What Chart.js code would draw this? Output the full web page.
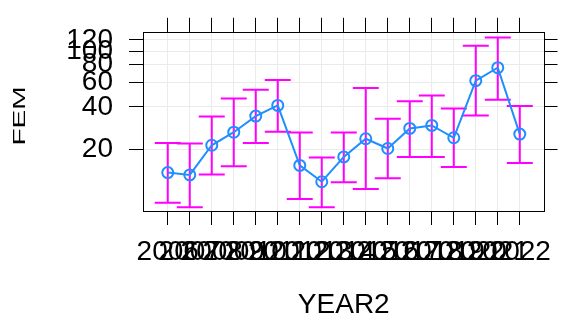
<!DOCTYPE html>
<html>
<head>
<meta charset="utf-8">
<script src="https://cdn.jsdelivr.net/npm/chart.js@4.4.1/dist/chart.umd.min.js"></script>
<style>
html, body { margin: 0; padding: 0; background: #fff; }
</style>
</head>
<body>
<canvas id="grafico" width="562" height="322"></canvas>
<script>
// Datos
var years = [2006, 2007, 2008, 2009, 2010, 2011, 2012, 2013, 2014, 2015, 2016, 2017, 2018, 2019, 2020, 2021, 2022];
var fem = [13.6, 13.1, 21.3, 26.4, 34.4, 41.0, 15.3, 11.7, 17.6, 23.7, 20.2, 28.1, 29.5, 24.1, 61.5, 76.1, 25.6];
var femUpper = [22.1, 21.9, 34.2, 45.9, 52.9, 62.2, 26.3, 17.4, 26.3, 54.5, 32.9, 43.8, 48.3, 39.0, 109, 125, 40.6];
var femLower = [8.3, 7.7, 13.2, 15.1, 22.1, 26.6, 8.8, 7.7, 11.6, 10.4, 12.4, 17.6, 17.6, 14.9, 34.7, 44.9, 15.9];
var yTicks = [20, 40, 60, 80, 100, 120];

Chart.defaults.font.family = '"Liberation Sans", Arial, sans-serif';
Chart.defaults.color = '#000';

var ctx = document.getElementById('grafico').getContext('2d');

// Barras de error (magenta)
var barrasError = {
    id: 'barrasError',
    beforeDatasetsDraw: function (chart) {
        var c = chart.ctx, sx = chart.scales.x, sy = chart.scales.y;
        c.save();
        c.strokeStyle = '#ff00ff';
        c.lineWidth = 2;
        for (var i = 0; i < years.length; i++) {
            var px = sx.getPixelForValue(years[i]);
            var top = sy.getPixelForValue(femUpper[i]);
            var bot = sy.getPixelForValue(femLower[i]);
            c.beginPath();
            c.moveTo(px, top); c.lineTo(px, bot);
            c.moveTo(px - 13, top); c.lineTo(px + 13, top);
            c.moveTo(px - 13, bot); c.lineTo(px + 13, bot);
            c.stroke();
        }
        c.restore();
    }
};

// Titulo del eje Y (texto girado, letras mas estrechas)
var tituloY = {
    id: 'tituloY',
    afterDraw: function (chart) {
        var c = chart.ctx;
        c.save();
        c.translate(25, 116);
        c.rotate(-Math.PI / 2);
        c.scale(1, 0.62);
        c.font = '28px "Liberation Sans", Arial, sans-serif';
        c.fillStyle = '#000';
        c.textAlign = 'center';
        c.textBaseline = 'alphabetic';
        c.fillText('FEM', 0, 0);
        c.restore();
    }
};

function ticksX(s) { s.ticks = years.map(function (v) { return { value: v }; }); }
function ticksY(s) { s.ticks = yTicks.map(function (v) { return { value: v }; }); }

var miGrafico = new Chart(ctx, {
    type: 'line',
    data: {
        datasets: [{
            data: years.map(function (y, i) { return { x: y, y: fem[i] }; }),
            borderColor: '#1f8fff',
            borderWidth: 2,
            pointRadius: 5.5,
            pointBorderWidth: 2,
            pointBorderColor: '#1f8fff',
            pointBackgroundColor: 'rgba(0,0,0,0)',
            fill: false,
            tension: 0
        }]
    },
    options: {
        responsive: false,
        animation: false,
        devicePixelRatio: 1,
        layout: { padding: { top: 3, right: 0, bottom: 0, left: 0 } },
        plugins: { legend: { display: false }, tooltip: { enabled: false } },
        scales: {
            x: {
                type: 'linear', position: 'bottom', min: 2004.875, max: 2023.125,
                afterBuildTicks: ticksX,
                afterFit: function (s) { s.height = 111; },
                ticks: { autoSkip: false, maxRotation: 0, minRotation: 0, padding: 10, font: { size: 28 },
                    callback: function (v) { return String(v); } },
                grid: { color: '#ebebeb', tickColor: '#000', tickLength: 14 },
                border: { color: '#000', width: 1 },
                title: { display: true, text: 'YEAR2', font: { size: 28 }, padding: 0 }
            },
            x2: {
                type: 'linear', position: 'top', min: 2004.875, max: 2023.125,
                afterBuildTicks: ticksX,
                afterFit: function (s) { s.height = 15; },
                ticks: { display: false },
                grid: { drawOnChartArea: false, tickColor: '#000', tickLength: 15 },
                border: { color: '#000', width: 1 }
            },
            y: {
                type: 'logarithmic', position: 'left', min: 7.24, max: 135,
                afterBuildTicks: ticksY,
                afterFit: function (s) { s.width = 143; },
                ticks: { autoSkip: false, padding: 16, font: { size: 28 }, callback: function (v) { return String(v); } },
                grid: { color: '#ebebeb', tickColor: '#000', tickLength: 14 },
                border: { color: '#000', width: 1 }
            },
            y2: {
                type: 'logarithmic', position: 'right', min: 7.24, max: 135,
                afterBuildTicks: ticksY,
                afterFit: function (s) { s.width = 13; },
                ticks: { display: false },
                grid: { drawOnChartArea: false, tickColor: '#000', tickLength: 13 },
                border: { color: '#000', width: 1 }
            }
        }
    },
    plugins: [barrasError, tituloY]
});
</script>
</body>
</html>
